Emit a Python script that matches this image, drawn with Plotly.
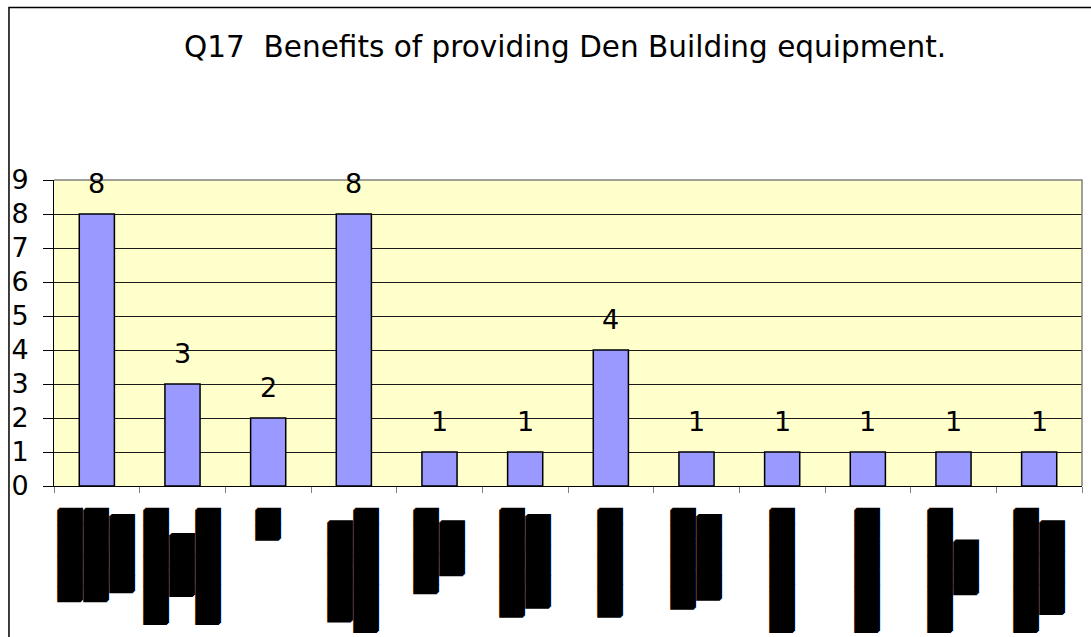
import plotly.graph_objects as go

# Category labels (rendered as solid block glyphs, one line per column)
B = "\u2588"   # full block
H = "\u2590"   # right half block
S = "\u00a0"   # non-breaking space (top padding)

labels = [
    "<br>".join([B * 6, B * 6, B * 5 + S]),
    "<br>".join([H + B * 7, B * 4 + S * 4, H + B * 7]),
    B * 2,
    "<br>".join([H + B * 6 + S * 2, B * 8]),
    "<br>".join([H + B * 5, H + B * 3 + S * 2]),
    "<br>".join([B * 7, B * 6 + S]),
    B * 7,
    "<br>".join([H + B * 6, H + B * 5 + S]),
    B * 8,
    B * 8,
    "<br>".join([B * 8, H + B * 3 + S * 5]),
    "<br>".join([B * 8, B * 6 + S * 2]),
]
categories = [f"c{i + 1}" for i in range(len(labels))]
counts = [8, 3, 2, 8, 1, 1, 4, 1, 1, 1, 1, 1]

title_text = "Q17  Benefits of providing Den Building equipment."

TXT_FONT = "DejaVu Sans, Arial, Liberation Sans"

fig = go.Figure()
fig.add_trace(go.Bar(
    x=categories,
    y=counts,
    marker=dict(color="#9999FF", line=dict(color="#000000", width=1.5)),
    hoverinfo="skip",
))

# value labels above each bar
for c, v in zip(categories, counts):
    fig.add_annotation(
        x=c, y=v, text=str(v), showarrow=False,
        yanchor="bottom", yshift=13,
        font=dict(family=TXT_FONT, size=27, color="#000000"),
    )

fig.update_layout(
    width=1091, height=637,
    margin=dict(l=54, r=9, t=180, b=151, autoexpand=False),
    paper_bgcolor="#FFFFFF",
    plot_bgcolor="#FFFFCC",
    showlegend=False,
    bargap=0.59,
    font=dict(family=TXT_FONT, color="#000000"),
    title=dict(
        text=title_text,
        x=0.518, xanchor="center",
        y=1 - 47 / 637, yanchor="middle", yref="container",
        font=dict(family=TXT_FONT, size=29.5, color="#000000"),
    ),
    xaxis=dict(
        type="category", automargin=False,
        tickmode="array", tickvals=categories, ticktext=labels,
        tickangle=-90,
        tickfont=dict(family="DejaVu Sans", size=20, color="#000000",
                      shadow="1px 1px 0 #000, -1px -1px 0 #000"),
        ticklabelstandoff=14,
        tickson="boundaries", ticks="outside", ticklen=6,
        tickcolor="#808080", tickwidth=1,
        showline=True, linecolor="#000000", linewidth=1,
        showgrid=False, zeroline=False,
    ),
    yaxis=dict(
        range=[0, 9], dtick=1, tick0=0, automargin=False,
        ticks="outside", ticklen=10, tickcolor="#000000", tickwidth=1,
        tickfont=dict(family=TXT_FONT, size=27, color="#000000"),
        ticklabelstandoff=9,
        showline=True, linecolor="#000000", linewidth=1,
        showgrid=True, gridcolor="#1a1a1a", gridwidth=1,
        zeroline=False,
    ),
    shapes=[
        # top and right edges of the plot area
        dict(type="path", xref="paper", yref="paper",
             path="M0,1 L1,1 L1,0", line=dict(color="#808080", width=1.5),
             layer="above"),
        # outer chart frame
        dict(type="rect", xref="paper", yref="paper",
             x0=-0.0438, y0=-0.8, x1=1.2, y1=1.5637,
             line=dict(color="#000000", width=1.5), fillcolor="rgba(0,0,0,0)",
             layer="below"),
    ],
)

fig.write_html("out.html")
